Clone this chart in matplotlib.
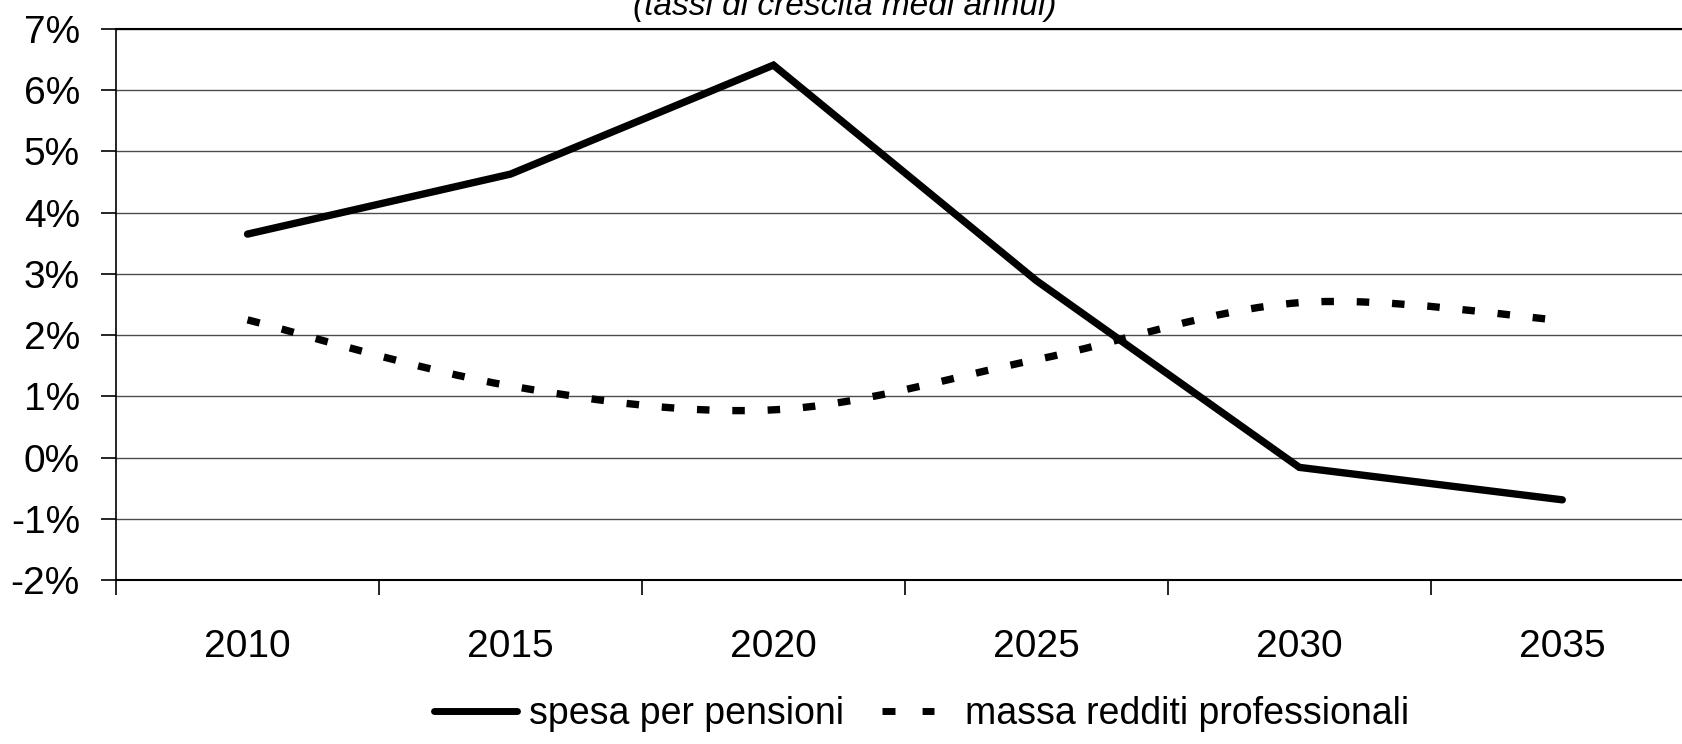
import numpy as np
import matplotlib
matplotlib.use("Agg")
import matplotlib.pyplot as plt
from matplotlib.path import Path
from matplotlib.patches import PathPatch
from matplotlib.lines import Line2D
from matplotlib.legend_handler import HandlerLine2D
from matplotlib.ticker import FixedLocator, PercentFormatter

plt.rcParams['font.family'] = ['Liberation Sans', 'DejaVu Sans']
plt.rcParams['axes.unicode_minus'] = False

years = ['2010', '2015', '2020', '2025', '2030', '2035']
spesa_pensioni = [3.65, 4.63, 6.41, 2.89, -0.16, -0.69]
massa_redditi = [2.25, 1.17, 0.78, 1.60, 2.53, 2.24]
title = '(tassi di crescita medi annui)'
label_spesa = 'spesa per pensioni'
label_massa = 'massa redditi professionali'


def smooth_path(xs, ys):
    # Excel-like smoothed line: Catmull-Rom converted to cubic Bezier
    p = np.column_stack([xs, ys]).astype(float)
    n = len(p)
    verts = [p[0]]
    codes = [Path.MOVETO]
    for i in range(n - 1):
        p0 = p[i - 1] if i > 0 else p[i]
        p1 = p[i]
        p2 = p[i + 1]
        p3 = p[i + 2] if i + 2 < n else p[i + 1]
        c1 = p1 + (p2 - p0) / 6.0
        c2 = p2 - (p3 - p1) / 6.0
        verts += [c1, c2, p2]
        codes += [Path.CURVE4] * 3
    return Path(verts, codes)


class ShortDashHandler(HandlerLine2D):
    # draw only a short "- -" inside the handle box
    def get_xdata(self, legend, xdescent, ydescent, width, height, fontsize):
        xd = np.array([0.134 * width, 0.77 * width]) - xdescent
        return xd, xd


fig = plt.figure(figsize=(16.82, 7.44), dpi=100)
ax = fig.add_axes([0.069, 0.2204, 0.938, 0.7406])

x = np.arange(len(years))
ax.plot(x, spesa_pensioni, color='black', lw=5.3, solid_joinstyle='miter',
        solid_capstyle='round', zorder=3)
patch = PathPatch(smooth_path(x, massa_redditi), fill=False, edgecolor='black',
                  lw=5.3, linestyle=(0, (1.7, 3.1)), capstyle='butt', zorder=3)
ax.add_patch(patch)

ax.set_xlim(-0.5, len(years) - 0.5)
ax.set_ylim(-2, 7)
ax.yaxis.set_major_locator(FixedLocator(np.arange(-2, 8, 1)))
ax.yaxis.set_major_formatter(PercentFormatter(decimals=0))
ax.grid(axis='y', color='#4d4d4d', lw=1.0)
ax.set_axisbelow(True)

ax.xaxis.set_major_locator(FixedLocator(np.arange(-0.5, len(years), 1)))
ax.xaxis.set_major_formatter(plt.NullFormatter())
ax.xaxis.set_minor_locator(FixedLocator(x))
ax.set_xticklabels(years, minor=True)
ax.tick_params(axis='x', which='major', direction='out', length=11, width=1.2, color='black')
ax.tick_params(axis='x', which='minor', length=0, pad=35, labelsize=28)
ax.tick_params(axis='y', direction='out', length=11, width=1.2, pad=15, labelsize=28)

ax.spines['right'].set_visible(False)
ax.spines['top'].set_linewidth(1.5)
ax.spines['left'].set_linewidth(1.2)
ax.spines['bottom'].set_linewidth(1.5)

fig.text(845 / 1682, 1 - 15 / 744, title, ha='center', va='baseline',
         fontsize=24, style='italic')

h1 = Line2D([], [], color='black', lw=5, solid_capstyle='round')
h2 = Line2D([], [], color='black', lw=5, linestyle=(0, (1.87, 3.9)),
            dash_capstyle='butt')
fig.legend([h1, h2], [label_spesa, label_massa], loc='center',
           bbox_to_anchor=(922 / 1682, 1 - 714 / 744), ncol=2, frameon=False,
           fontsize=27, handlelength=2.2, handletextpad=0.32, columnspacing=0.72,
           handler_map={h2: ShortDashHandler()})

fig.savefig('out.png', dpi=100)
